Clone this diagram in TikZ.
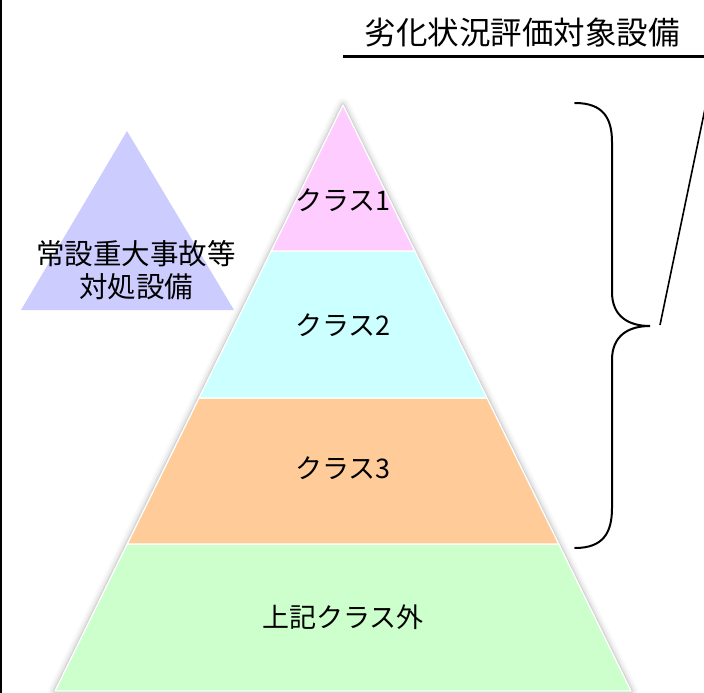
\documentclass[tikz,border=0pt]{standalone}
\usepackage{fontspec}
\newfontfamily\jp{Noto Sans CJK JP}
\definecolor{cpink}{RGB}{255,204,255}
\definecolor{ccyan}{RGB}{204,255,255}
\definecolor{corange}{RGB}{255,204,153}
\definecolor{cgreen}{RGB}{204,255,204}
\definecolor{clav}{RGB}{204,204,255}
\begin{document}
\begin{tikzpicture}[x=1pt,y=-1pt,
  layer/.style={draw=white,line width=1.3pt,line join=round},
  lbl/.style={font=\jp\fontsize{27}{33}\selectfont,inner sep=0pt,align=center},
  brace/.style={draw=black,line width=2pt,line cap=round},
]
\useasboundingbox (0,0) rectangle (704,693);
\fill[white] (0,0) rectangle (704,693);
\draw[black,line width=2.5pt] (1.2,0) -- (1.2,693);
% left triangle
\fill[clav] (21,310) -- (127,131) -- (234,310) -- cycle;
\node[lbl,font=\jp\fontsize{28.5}{33}\selectfont] (sa) at (136,270) {常設重大事故等\\対処設備};
% pyramid shadow
\foreach \w/\o in {14/0.025,10/0.035,6/0.05,3/0.08}
  \draw[line width=\w pt,black,opacity=\o,line join=round] (343,105) -- (631,691) -- (55,691) -- cycle;
% layers
\path[layer,fill=cgreen] (127.2,544) -- (558.8,544) -- (631,691) -- (55,691) -- cycle;
\path[layer,fill=corange] (199,398) -- (487,398) -- (558.8,544) -- (127.2,544) -- cycle;
\path[layer,fill=ccyan] (271.2,251) -- (414.8,251) -- (487,398) -- (199,398) -- cycle;
\path[layer,fill=cpink] (343,105) -- (414.8,251) -- (271.2,251) -- cycle;
\node[lbl] (c1) at (343,200) {クラス1};
\node[lbl] (c2) at (343,325) {クラス2};
\node[lbl] (c3) at (343,468) {クラス3};
\node[lbl] (c4) at (343,617) {上記クラス外};
% title
\node[font=\jp\fontsize{31.5}{36}\selectfont,inner sep=0pt] (title) at (522,33) {劣化状況評価対象設備};
\coordinate (ul1) at (343,57);
\coordinate (ul2) at (704,57);
\draw[black,line width=3pt] (ul1) -- (ul2);
% brace
\coordinate (btop) at (575,103);
\coordinate (btip) at (650,326);
\coordinate (bbot) at (575,548);
\draw[brace] (btop) .. controls (603,103) and (612,118) .. (612,142)
  -- (612,292) .. controls (612,316) and (628,326) .. (btip)
  .. controls (628,326) and (612,336) .. (612,360)
  -- (612,508) .. controls (612,533) and (603,548) .. (bbot);
% slash line
\coordinate (s1) at (660,325);
\coordinate (s2) at (706,104);
\draw[black,line width=1.6pt] (s1) -- (s2);
\end{tikzpicture}
\end{document}
